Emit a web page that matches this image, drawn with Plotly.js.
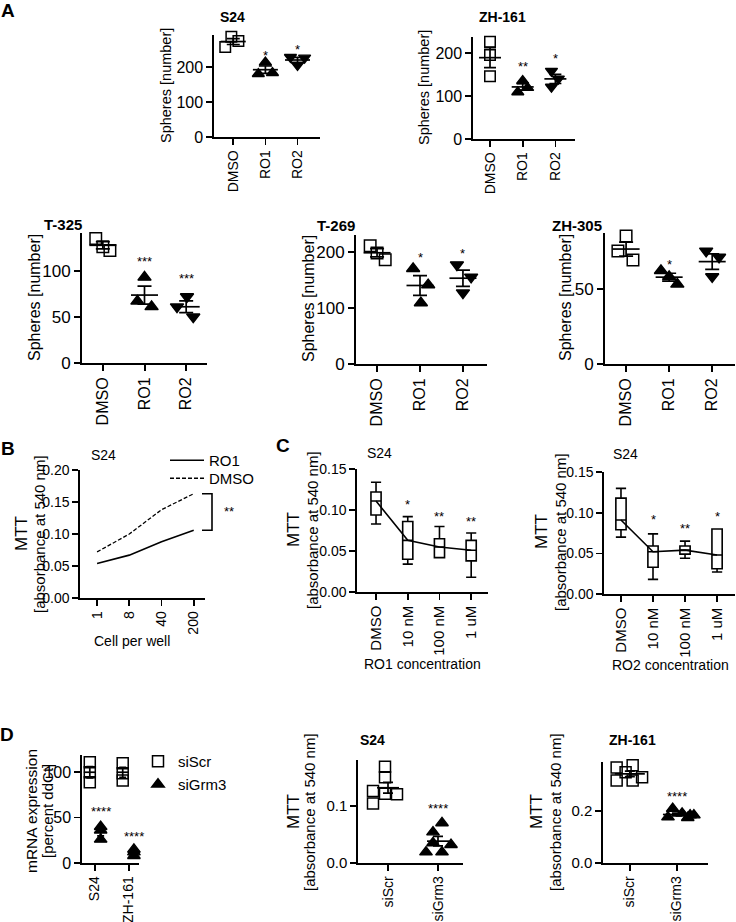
<!DOCTYPE html>
<html><head><meta charset="utf-8">
<script src="https://cdn.plot.ly/plotly-3.0.1.min.js"></script>
<style>html,body{margin:0;padding:0;background:#fff}#chart{width:736px;height:922px}</style>
</head><body><div id="chart"></div>
<script>
// ================= DATA =================
const aCategories = ['DMSO', 'RO1', 'RO2'];
const s24DMSO = [257, 286, 274];
const s24RO1 = [180, 213, 183];
const s24RO2 = [228, 205, 226];
const s24Stars = ['', '*', '*'];
const zh161DMSO = [226, 195, 146];
const zh161RO1 = [109, 135, 119];
const zh161RO2 = [158, 121, 140];
const zh161Stars = ['', '**', '*'];
const t325DMSO = [135, 126, 122];
const t325RO1 = [67, 93, 61];
const t325RO2 = [61, 72, 50];
const t325Stars = ['', '***', '***'];
const t269DMSO = [211, 198, 186];
const t269RO1 = [170, 109, 141];
const t269RO2 = [177, 127, 155];
const t269Stars = ['', '*', '*'];
const zh305DMSO = [75, 85, 69];
const zh305RO1 = [62, 58, 53];
const zh305RO2 = [75, 58, 71];
const zh305Stars = ['', '*', ''];

const bCells = ['1', '8', '40', '200'];
const bRO1 = [0.054, 0.067, 0.088, 0.106];
const bDMSO = [0.072, 0.100, 0.138, 0.163];
const bStar = '**';

const cDoses = ['DMSO', '10 nM', '100 nM', '1 uM'];
const cRO1Min = [0.083, 0.034, 0.042, 0.018];
const cRO1Q1 = [0.094, 0.040, 0.042, 0.038];
const cRO1Median = [0.111, 0.063, 0.055, 0.051];
const cRO1Q3 = [0.122, 0.086, 0.065, 0.063];
const cRO1Max = [0.134, 0.092, 0.080, 0.072];
const cRO1Stars = ['', '*', '**', '**'];
const cRO2Min = [0.070, 0.018, 0.044, 0.027];
const cRO2Q1 = [0.079, 0.033, 0.049, 0.031];
const cRO2Median = [0.091, 0.052, 0.054, 0.048];
const cRO2Q3 = [0.118, 0.059, 0.059, 0.080];
const cRO2Max = [0.130, 0.074, 0.065, 0.080];
const cRO2Stars = ['', '*', '**', '*'];

const dCellLines = ['S24', 'ZH-161'];
const dScrS24 = [111, 89, 100];
const dGrm3S24 = [40, 36, 26];
const dScrZH161 = [110, 91, 99];
const dGrm3ZH161 = [15, 12, 8];
const dStars = ['****', '****'];
const mttGroups = ['siScr', 'siGrm3'];
const mttS24Scr = [0.126, 0.104, 0.168, 0.150, 0.121, 0.120];
const mttS24Grm3 = [0.070, 0.054, 0.035, 0.032, 0.019, 0.019];
const mttZH161Scr = [0.369, 0.319, 0.377, 0.319, 0.350, 0.331];
const mttZH161Grm3 = [0.210, 0.192, 0.185, 0.177, 0.175, 0.185];
const mttStars = ['', '****'];

// ================= POSITIONS / STYLE =================
const W = 736, H = 922;
const FONT = '"Liberation Sans", Arial, sans-serif';
const px = x => x / W;
const py = y => 1 - y / H;

const jitter = {
  s24: [[-0.25, -0.06, 0.16], [-0.22, 0, 0.22], [-0.22, 0, 0.22]],
  zh161: [[0, 0, 0], [-0.15, 0, 0.15], [-0.12, -0.12, 0.09]],
  t325: [[-0.17, 0, 0.17], [-0.17, 0, 0.17], [-0.22, 0.02, 0.17]],
  t269: [[-0.16, 0, 0.19], [-0.16, 0.02, 0.19], [-0.14, 0, 0.19]],
  zh305: [[-0.19, 0, 0.16], [-0.19, 0, 0.19], [-0.14, 0, 0.16]],
  mttS24: [[-0.3, -0.3, -0.06, -0.06, -0.06, 0.18], [0.08, -0.1, -0.1, 0.26, -0.24, 0.08]],
  mttZH161: [[-0.28, -0.28, 0.06, 0.06, -0.09, 0.26], [-0.09, 0.11, 0.28, -0.19, 0.23, 0.36]]
};
const starShift = {
  s24: [0, 7, 8], zh161: [0, 14, 12], t325: [0, 16, 18], t269: [0, 11, 11], zh305: [0, 6, 0],
  cRO1: [0, 12, 10, 12], cRO2: [0, 14, 13, 12], d: [15, 13], mttS24: [0, 14], mttZH161: [0, 12]
};

function tf(size) { return {family: FONT, size: size, color: '#000'}; }
const axisBase = {
  showline: true, linecolor: '#000', linewidth: 1.7, ticks: 'outside', ticklen: 6, tickwidth: 1.7,
  tickcolor: '#000', showgrid: false, zeroline: false, fixedrange: true, automargin: false,
  tickfont: tf(14)
};

const layout = {
  width: W, height: H, margin: {l: 0, r: 0, t: 0, b: 0},
  paper_bgcolor: '#fff', plot_bgcolor: 'rgba(0,0,0,0)',
  font: tf(14), showlegend: true, annotations: [], shapes: []
};
const data = [];
let axN = 0;
function addAxes(box, xr, yr, xticks, yopts, xopts) {
  axN++;
  const xid = axN === 1 ? 'x' : 'x' + axN, yid = axN === 1 ? 'y' : 'y' + axN;
  layout[axN === 1 ? 'xaxis' : 'xaxis' + axN] = Object.assign({}, axisBase, {
    domain: [px(box[0]), px(box[1])], range: xr, anchor: yid,
    tickmode: 'array', tickvals: xticks.map((_, i) => i), ticktext: xticks, tickangle: -90
  }, xopts || {});
  layout[axN === 1 ? 'yaxis' : 'yaxis' + axN] = Object.assign({}, axisBase, {
    domain: [py(box[3]), py(box[2])], range: yr, anchor: xid
  }, yopts || {});
  return {x: xid, y: yid};
}
function mean(a) { return a.reduce((s, v) => s + v, 0) / a.length; }
function sem(a) { const m = mean(a); return Math.sqrt(a.reduce((s, v) => s + (v - m) * (v - m), 0) / (a.length - 1)) / Math.sqrt(a.length); }

function sq(size) { return {symbol: 'square-open', size: size, color: '#000', line: {width: 1.5, color: '#000'}}; }
function tu(size) { return {symbol: 'triangle-up', size: size, color: '#000', line: {width: 1.4, color: '#000'}}; }
function td(size) { return {symbol: 'triangle-down', size: size, color: '#000', line: {width: 1.4, color: '#000'}}; }

function dotGroup(ax, xc, vals, jit, marker, meanLen, capW, extra) {
  data.push(Object.assign({
    type: 'scatter', mode: 'markers', xaxis: ax.x, yaxis: ax.y,
    x: vals.map((v, k) => xc + jit[k]), y: vals, marker: marker,
    cliponaxis: false, hoverinfo: 'skip', showlegend: false
  }, extra || {}));
  data.push({
    type: 'scatter', mode: 'markers', xaxis: ax.x, yaxis: ax.y, x: [xc], y: [mean(vals)],
    marker: {symbol: 'line-ew', size: meanLen / 1.4, color: '#000', line: {width: 1.7, color: '#000'}},
    error_y: {type: 'data', array: [sem(vals)], visible: true, color: '#000', thickness: 1.7, width: capW},
    cliponaxis: false, hoverinfo: 'skip', showlegend: false
  });
}
function star(ax, xc, yv, text, shift) {
  if (!text) return;
  layout.annotations.push({xref: ax.x, yref: ax.y, x: xc, y: yv, text: text, showarrow: false,
    xanchor: 'center', yanchor: 'middle', yshift: shift, font: tf(13)});
}
function txt(x, y, text, size, bold, angle) {
  layout.annotations.push({xref: 'paper', yref: 'paper', x: px(x), y: py(y), text: bold ? '<b>' + text + '</b>' : text,
    showarrow: false, xanchor: 'center', yanchor: 'middle', textangle: angle || 0, font: tf(size)});
}
function spherePanel(ax, groups, jit, stars, shifts, meanLen, capW, msize) {
  const markers = [sq(msize), tu(msize), td(msize)];
  groups.forEach((vals, i) => {
    dotGroup(ax, i, vals, jit[i], markers[i], meanLen, capW);
    star(ax, i, Math.max(...vals, mean(vals) + sem(vals)), stars[i], shifts[i]);
  });
}

// ================= PANEL A =================
const topY = {dtick: 100, tickfont: tf(16)};
const axS24 = addAxes([214, 320, 35, 137], [-0.6, 2.7], [0, 291], aCategories, topY);
spherePanel(axS24, [s24DMSO, s24RO1, s24RO2], jitter.s24, s24Stars, starShift.s24, 25, 6.5, 10.5);
const axZH161 = addAxes([473, 575, 37, 139], [-0.52, 2.6], [0, 237], aCategories, topY);
spherePanel(axZH161, [zh161DMSO, zh161RO1, zh161RO2], jitter.zh161, zh161Stars, starShift.zh161, 22, 6, 10.5);
const botX = {linewidth: 2, tickwidth: 2, tickfont: tf(16)};
const axT325 = addAxes([82, 207, 233, 363], [-0.5, 2.5], [0, 141], aCategories, {dtick: 50, tickfont: tf(17), linewidth: 2, tickwidth: 2}, botX);
spherePanel(axT325, [t325DMSO, t325RO1, t325RO2], jitter.t325, t325Stars, starShift.t325, 27, 7, 11.5);
const axT269 = addAxes([356, 487, 235, 364], [-0.49, 2.56], [0, 230], aCategories, {dtick: 100, tickfont: tf(17), linewidth: 2, tickwidth: 2}, botX);
spherePanel(axT269, [t269DMSO, t269RO1, t269RO2], jitter.t269, t269Stars, starShift.t269, 27, 7, 11.5);
const axZH305 = addAxes([605, 735, 233, 364], [-0.49, 2.53], [0, 87], aCategories, {dtick: 50, tickfont: tf(17), linewidth: 2, tickwidth: 2}, botX);
spherePanel(axZH305, [zh305DMSO, zh305RO1, zh305RO2], jitter.zh305, zh305Stars, starShift.zh305, 27, 7, 11.5);

txt(8, 10, 'A', 19, true);
txt(232, 17, 'S24', 14, true);
txt(502, 17, 'ZH-161', 14, true);
txt(63, 224, 'T-325', 15, true);
txt(336, 225, 'T-269', 15, true);
txt(577, 225, 'ZH-305', 15, true);
txt(166, 86, 'Spheres [number]', 14.5, false, -90);
txt(424, 88, 'Spheres [number]', 14.5, false, -90);
txt(34, 298, 'Spheres [number]', 16, false, -90);
txt(308, 299, 'Spheres [number]', 16, false, -90);
txt(565, 298, 'Spheres [number]', 16, false, -90);

// ================= PANEL B =================
const axB = addAxes([80, 205, 470, 598], [-0.53, 3.35], [0, 0.2001], bCells, {dtick: 0.05, tickformat: '.2f'});
data.push({type: 'scatter', mode: 'lines', xaxis: axB.x, yaxis: axB.y, x: bCells.map((_, i) => i), y: bRO1,
  name: 'RO1', line: {color: '#000', width: 1.6}, legend: 'legend', hoverinfo: 'skip'});
data.push({type: 'scatter', mode: 'lines', xaxis: axB.x, yaxis: axB.y, x: bCells.map((_, i) => i), y: bDMSO,
  name: 'DMSO', line: {color: '#000', width: 1.3, dash: '4px,2px'}, legend: 'legend3', hoverinfo: 'skip'});
const bTop = bDMSO[bDMSO.length - 1], bBot = bRO1[bRO1.length - 1];
layout.shapes.push({type: 'path', xref: 'paper', yref: axB.y,
  path: 'M' + px(202) + ',' + bTop + ' L' + px(212) + ',' + bTop + ' L' + px(212) + ',' + bBot + ' L' + px(202) + ',' + bBot,
  line: {color: '#000', width: 1.6}});
layout.annotations.push({xref: 'paper', yref: axB.y, x: px(229), y: (bTop + bBot) / 2, text: bStar, showarrow: false,
  xanchor: 'center', yanchor: 'middle', font: tf(13)});
txt(8, 448, 'B', 19, true);
txt(103, 455, 'S24', 14, false);
txt(21, 534, 'MTT', 17, false, -90);
txt(39, 534, '[absorbance at 540 nm]', 15, false, -90);
txt(132, 641, 'Cell per well', 14, false);

// ================= PANEL C =================
function boxPanel(ax, mins, q1s, meds, q3s, maxs, stars, shifts) {
  const xs = cDoses.map((_, i) => i);
  data.push({type: 'box', xaxis: ax.x, yaxis: ax.y, x: xs, q1: q1s, median: meds, q3: q3s,
    lowerfence: mins, upperfence: maxs, width: 0.32, whiskerwidth: 1, fillcolor: '#fff',
    line: {color: '#000', width: 1.6}, boxpoints: false, hoverinfo: 'skip', showlegend: false});
  data.push({type: 'scatter', mode: 'lines', xaxis: ax.x, yaxis: ax.y, x: xs, y: meds,
    line: {color: '#000', width: 1.6}, hoverinfo: 'skip', showlegend: false});
  xs.forEach(i => star(ax, i, maxs[i], stars[i], shifts[i]));
}
const cX = {tickfont: tf(15)};
const axC1 = addAxes([357, 488, 469, 592], [-0.6, 3.53], [0, 0.1501], cDoses, {dtick: 0.05, tickformat: '.2f'}, cX);
boxPanel(axC1, cRO1Min, cRO1Q1, cRO1Median, cRO1Q3, cRO1Max, cRO1Stars, starShift.cRO1);
const axC2 = addAxes([604, 735, 472, 594], [-0.53, 3.56], [0, 0.1501], cDoses, {dtick: 0.05, tickformat: '.2f'}, cX);
boxPanel(axC2, cRO2Min, cRO2Q1, cRO2Median, cRO2Q3, cRO2Max, cRO2Stars, starShift.cRO2);
txt(283, 445, 'C', 19, true);
txt(379, 453, 'S24', 14, false);
txt(625, 454, 'S24', 14, false);
txt(293, 530, 'MTT', 17, false, -90);
txt(312, 530, '[absorbance at 540 nm]', 15, false, -90);
txt(541, 532, 'MTT', 17, false, -90);
txt(560, 532, '[absorbance at 540 nm]', 15, false, -90);
txt(422, 664, 'RO1 concentration', 14, false);
txt(670, 665, 'RO2 concentration', 14, false);

// ================= PANEL D =================
const axD1 = addAxes([82, 139, 755, 863], [-0.38, 1.3], [0, 119], dCellLines, {dtick: 50, tickfont: tf(16)}, {tickfont: tf(14)});
dotGroup(axD1, 0 - 0.15, dScrS24, [0, 0, 0], sq(11), 12, 3.5, {showlegend: true, name: 'siScr', legend: 'legend2'});
dotGroup(axD1, 0 + 0.17, dGrm3S24, [0, 0, 0], tu(11), 12, 3.5, {showlegend: true, name: 'siGrm3', legend: 'legend4'});
dotGroup(axD1, 1 - 0.18, dScrZH161, [0, 0, 0], sq(11), 12, 3.5);
dotGroup(axD1, 1 + 0.15, dGrm3ZH161, [0, 0, 0], tu(11), 12, 3.5);
star(axD1, 0 + 0.17, Math.max(...dGrm3S24), dStars[0], starShift.d[0]);
star(axD1, 1 + 0.15, Math.max(...dGrm3ZH161), dStars[1], starShift.d[1]);

const axD2 = addAxes([358, 463, 760, 863], [-0.6, 1.5], [0, 0.18], mttGroups, {dtick: 0.1, tickformat: '.1f', tickfont: tf(15)}, {tickfont: tf(14)});
dotGroup(axD2, 0, mttS24Scr, jitter.mttS24[0], sq(11), 22, 5);
dotGroup(axD2, 1, mttS24Grm3, jitter.mttS24[1], tu(11), 22, 5);
star(axD2, 1, Math.max(...mttS24Grm3), mttStars[1], starShift.mttS24[1]);

const axD3 = addAxes([603, 708, 762, 863], [-0.57, 1.66], [0, 0.39], mttGroups, {dtick: 0.2, tickformat: '.1f', tickfont: tf(15)}, {tickfont: tf(14)});
dotGroup(axD3, 0, mttZH161Scr, jitter.mttZH161[0], sq(11), 30, 5);
dotGroup(axD3, 1, mttZH161Grm3, jitter.mttZH161[1], tu(11), 28, 5);
star(axD3, 1, Math.max(...mttZH161Grm3), mttStars[1], starShift.mttZH161[1]);

txt(7, 734, 'D', 19, true);
txt(31, 811, 'mRNA expression', 15.5, false, -90);
txt(47, 811, '[percent ddCt]', 15, false, -90);
txt(372, 740, 'S24', 14, true);
txt(632, 740, 'ZH-161', 14, true);
txt(293, 812, 'MTT', 17, false, -90);
txt(309, 812, '[absorbance at 540 nm]', 15, false, -90);
txt(536, 812, 'MTT', 17, false, -90);
txt(555, 812, '[absorbance at 540 nm]', 15, false, -90);

// ================= LEGENDS =================
function legendAt(x, y, iw, size) {
  return {x: px(x), y: py(y), xanchor: 'left', yanchor: 'top', bgcolor: 'rgba(0,0,0,0)', borderwidth: 0,
    font: tf(size || 14), itemwidth: iw || 30, itemclick: false, itemdoubleclick: false};
}
layout.legend = legendAt(165, 444, 34, 15);
layout.legend3 = legendAt(165, 462, 34, 15);
layout.legend2 = legendAt(138, 745, 30, 15);
layout.legend4 = legendAt(138, 768, 30, 15);

Plotly.newPlot('chart', data, layout, {staticPlot: true, displayModeBar: false});
</script>
</body></html>
